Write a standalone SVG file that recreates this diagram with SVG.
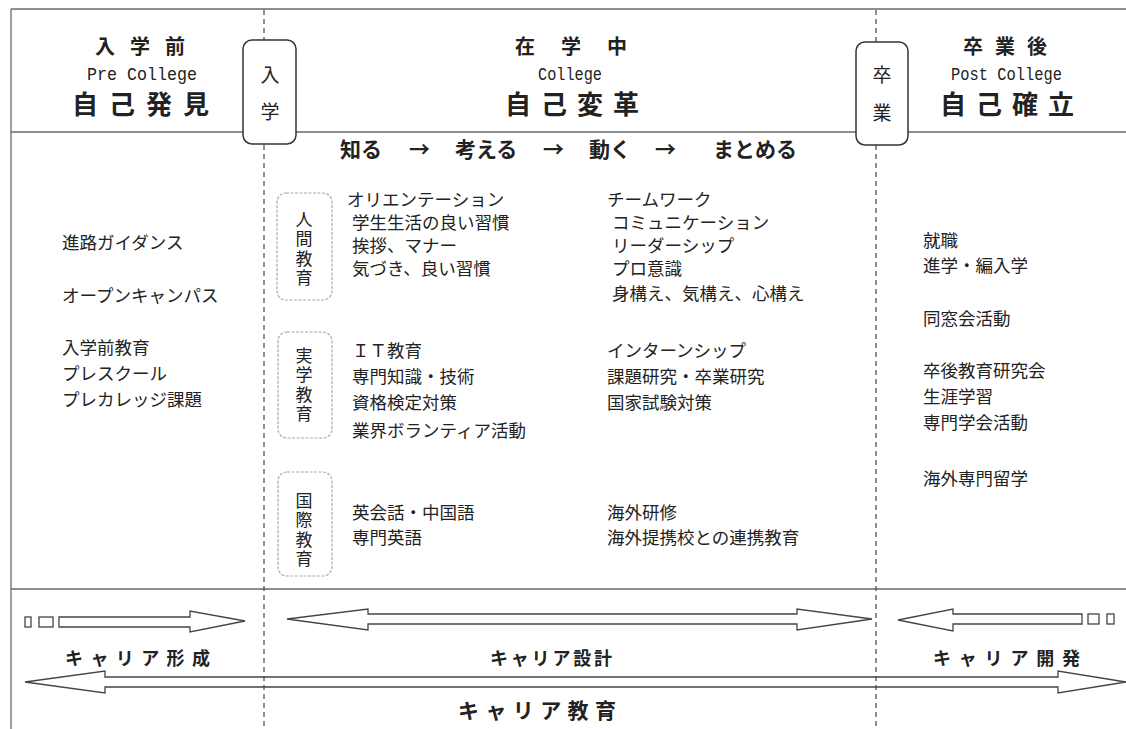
<svg xmlns="http://www.w3.org/2000/svg" width="1126" height="729" viewBox="0 0 1126 729">
<style>
.ln{stroke:#6a6a6a;stroke-width:1.3;fill:none}
.dash{stroke:#444;stroke-width:1.2;stroke-dasharray:5 4;fill:none}
.badge{fill:#fff;stroke:#333;stroke-width:1.5}
.cat{fill:#fff;stroke:#aaa;stroke-width:1.2;stroke-dasharray:3 1.5}
.arrow{fill:none;stroke:#444;stroke-width:1.3;stroke-linejoin:miter}
.h{font-family:"Noto Sans CJK JP",sans-serif;font-weight:700;fill:#222}
.en{font-family:"Liberation Mono","DejaVu Sans Mono",monospace;font-size:19px;fill:#222}
.t{font-family:"Noto Sans CJK JP",sans-serif;font-size:17.5px;fill:#222}
.v{font-family:"Noto Sans CJK JP",sans-serif;font-size:18px;fill:#222;text-anchor:middle}
.vt{font-family:"Noto Sans CJK JP",sans-serif;font-size:17px;fill:#222;writing-mode:vertical-rl;letter-spacing:2.5px}
</style>
<rect width="1126" height="729" fill="#fff"/>
<g id="frame">
<line class="ln" x1="11" y1="9" x2="1126" y2="9"/>
<line class="ln" x1="11" y1="9" x2="11" y2="729"/>
<line class="ln" x1="11" y1="132" x2="1126" y2="132"/>
<line class="ln" x1="11" y1="589" x2="1126" y2="589"/>
</g>
<g id="connectors">
<line class="dash" x1="264" y1="10" x2="264" y2="729"/>
<line class="dash" x1="876" y1="10" x2="876" y2="729"/>
<g id="arrow-keisei">
<rect class="arrow" x="25" y="617" width="6" height="10"/>
<rect class="arrow" x="39" y="617" width="14" height="10"/>
<polygon class="arrow" points="59,617 190,617 190,611 245,621 190,632 190,627 59,627"/>
</g>
<polygon id="arrow-sekkei" class="arrow" points="287,619 368,609 368,614 797,614 797,609 872,619 797,630 797,624 368,624 368,630"/>
<g id="arrow-kaihatsu">
<polygon class="arrow" points="898,620 953,609 953,614 1082,614 1082,624 953,624 953,631"/>
<rect class="arrow" x="1088" y="614" width="11" height="10"/>
<rect class="arrow" x="1107" y="614" width="7" height="10"/>
</g>
<polygon id="arrow-kyouiku" class="arrow" points="25,682 105,671 105,677 1058,677 1058,671 1126,682 1058,693 1058,687 105,687 105,693"/>
</g>
<g id="badge-nyugaku">
<rect class="badge" x="243" y="40" width="53" height="104" rx="9"/>
<text class="v" x="270" y="82" style="font-size:19px">入</text>
<text class="v" x="270" y="119" style="font-size:19px">学</text>
</g>
<g id="badge-sotsugyo">
<rect class="badge" x="856" y="42" width="52" height="103" rx="9"/>
<text class="v" x="882" y="82" style="font-size:19px">卒</text>
<text class="v" x="882" y="120" style="font-size:19px">業</text>
</g>
<g id="head-pre">
<text class="h" x="95" y="54" style="font-size:20px;letter-spacing:15px">入学前</text>
<text class="en" x="87" y="80" textLength="110" lengthAdjust="spacingAndGlyphs">Pre College</text>
<text class="h" x="72" y="114" style="font-size:26px;letter-spacing:11px">自己発見</text>
</g>
<g id="head-college">
<text class="h" x="515" y="54" style="font-size:20px;letter-spacing:26px">在学中</text>
<text class="en" x="538" y="80" textLength="64" lengthAdjust="spacingAndGlyphs">College</text>
<text class="h" x="505" y="114" style="font-size:26px;letter-spacing:10px">自己変革</text>
</g>
<g id="head-post">
<text class="h" x="963" y="54" style="font-size:20px;letter-spacing:12px">卒業後</text>
<text class="en" x="951" y="80" textLength="111" lengthAdjust="spacingAndGlyphs">Post College</text>
<text class="h" x="940" y="114" style="font-size:26px;letter-spacing:10px">自己確立</text>
</g>
<g id="steps">
<text class="h" y="157" style="font-size:21px"><tspan x="340">知る</tspan><tspan x="409">→</tspan><tspan x="455">考える</tspan><tspan x="543">→</tspan><tspan x="589">動く</tspan><tspan x="655">→</tspan><tspan x="713">まとめる</tspan></text>
</g>
<g id="col-pre">
<text class="t" x="62" y="249">進路ガイダンス</text>
<text class="t" x="62" y="302">オープンキャンパス</text>
<text class="t" x="62" y="354">入学前教育</text>
<text class="t" x="62" y="380">プレスクール</text>
<text class="t" x="62" y="406">プレカレッジ課題</text>
</g>
<g id="cat-ningen">
<rect class="cat" x="277" y="193" width="55" height="107" rx="9"/>
<text class="vt" x="304" y="211">人間教育</text>
</g>
<g id="cat-jitsugaku">
<rect class="cat" x="278" y="332" width="54" height="106" rx="9"/>
<text class="vt" x="304" y="347">実学教育</text>
</g>
<g id="cat-kokusai">
<rect class="cat" x="278" y="472" width="54" height="104" rx="9"/>
<text class="vt" x="304" y="492">国際教育</text>
</g>
<g id="col-college-1">
<text class="t" x="347" y="206">オリエンテーション</text>
<text class="t" x="352" y="229">学生生活の良い習慣</text>
<text class="t" x="352" y="252">挨拶、マナー</text>
<text class="t" x="352" y="275">気づき、良い習慣</text>
<text class="t" x="352" y="357">ＩＴ教育</text>
<text class="t" x="352" y="383">専門知識・技術</text>
<text class="t" x="352" y="409">資格検定対策</text>
<text class="t" x="352" y="437">業界ボランティア活動</text>
<text class="t" x="352" y="519">英会話・中国語</text>
<text class="t" x="352" y="544">専門英語</text>
</g>
<g id="col-college-2">
<text class="t" x="607" y="206">チームワーク</text>
<text class="t" x="612" y="229">コミュニケーション</text>
<text class="t" x="612" y="252">リーダーシップ</text>
<text class="t" x="612" y="275">プロ意識</text>
<text class="t" x="612" y="300">身構え、気構え、心構え</text>
<text class="t" x="607" y="357">インターンシップ</text>
<text class="t" x="607" y="383">課題研究・卒業研究</text>
<text class="t" x="607" y="409">国家試験対策</text>
<text class="t" x="607" y="519">海外研修</text>
<text class="t" x="607" y="544">海外提携校との連携教育</text>
</g>
<g id="col-post">
<text class="t" x="923" y="247">就職</text>
<text class="t" x="923" y="272">進学・編入学</text>
<text class="t" x="923" y="325">同窓会活動</text>
<text class="t" x="923" y="377">卒後教育研究会</text>
<text class="t" x="923" y="403">生涯学習</text>
<text class="t" x="923" y="429">専門学会活動</text>
<text class="t" x="923" y="485">海外専門留学</text>
</g>
<g id="labels">
<text class="h" x="65" y="665" style="font-size:18px;letter-spacing:7.4px">キャリア形成</text>
<text class="h" x="490" y="665" style="font-size:18px;letter-spacing:2.8px">キャリア設計</text>
<text class="h" x="933" y="665" style="font-size:18px;letter-spacing:7.8px">キャリア開発</text>
<text class="h" x="458" y="718" style="font-size:21px;letter-spacing:6.4px">キャリア教育</text>
</g>
</svg>
